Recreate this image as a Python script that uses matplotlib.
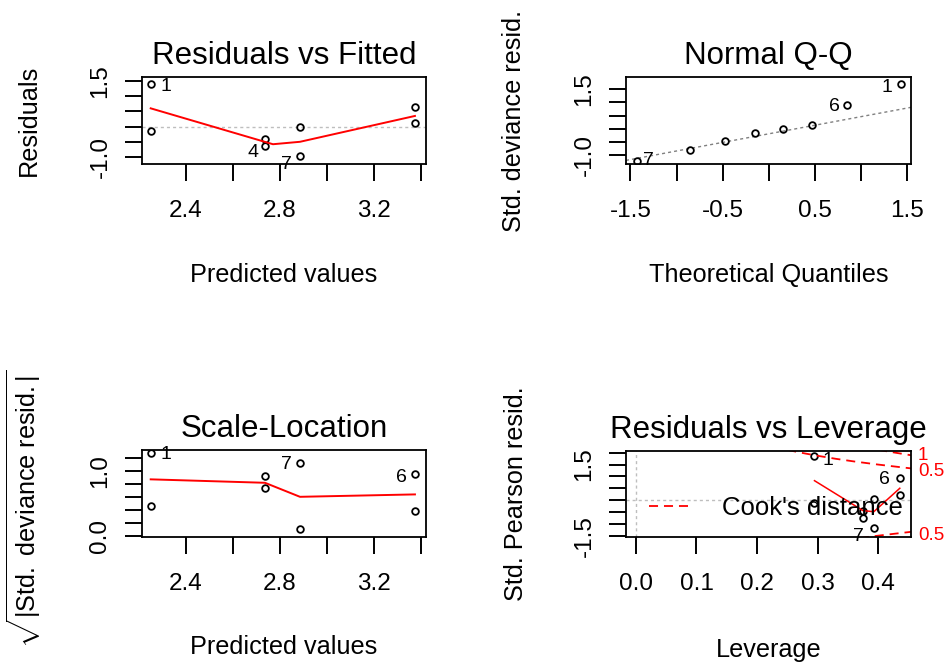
"""
GLM diagnostic plots (R plot.glm style): 2x2 panels
"""

import matplotlib
matplotlib.use("Agg")
import matplotlib.pyplot as plt
from matplotlib.lines import Line2D

plt.rcParams['font.family'] = ['Liberation Sans', 'DejaVu Sans']
plt.rcParams['mathtext.fontset'] = 'custom'
plt.rcParams['mathtext.rm'] = 'Liberation Sans'
plt.rcParams['mathtext.it'] = 'Liberation Sans:italic'
plt.rcParams['mathtext.bf'] = 'Liberation Sans:bold'

# --- Residuals vs Fitted ---
fitted = [2.25, 2.25, 2.736, 2.736, 2.885, 2.885, 3.374, 3.374]
resid = [1.40, -0.135, -0.41, -0.64, 0.0, -0.97, 0.635, 0.13]
fit_smooth_x = [2.25, 2.77, 2.885, 3.374]
fit_smooth_y = [0.60, -0.58, -0.50, 0.35]
fit_ids = ['1', '4', '7']
fit_id_idx = [0, 3, 5]

# --- Normal Q-Q ---
theo_q = [-1.434, -0.852, -0.473, -0.153, 0.153, 0.473, 0.852, 1.434]
std_dev_resid = [-1.22, -0.81, -0.456, -0.15, 0.0, 0.14, 0.89, 1.69]
qq_intercept = -0.194
qq_slope = 0.653
qq_ids = ['7', '6', '1']
qq_id_idx = [0, 6, 7]

# --- Scale-Location ---
sqrt_abs_resid = [1.267, 0.457, 0.917, 0.726, 1.122, 0.108, 0.943, 0.376]
sl_x = [2.25, 2.25, 2.736, 2.736, 2.885, 2.885, 3.374, 3.374]
sl_smooth_x = [2.25, 2.736, 2.885, 3.374]
sl_smooth_y = [0.866, 0.813, 0.597, 0.634]
sl_ids = ['1', '7', '6']
sl_id_idx = [0, 4, 6]

# --- Residuals vs Leverage ---
leverage = [0.295, 0.295, 0.375, 0.375, 0.393, 0.393, 0.436, 0.436]
pearson_resid = [1.86, -0.13, -0.45, -0.77, 0.03, -1.19, 0.92, 0.22]
lev_smooth_x = [0.295, 0.375, 0.393, 0.436]
lev_smooth_y = [0.82, -0.44, -0.49, 0.50]
lev_ids = ['1', '7', '6']
lev_id_idx = [0, 5, 6]
cook05_up_x = [0.25, 0.26, 0.28, 0.30, 0.33, 0.36, 0.40, 0.43, 0.46]
cook05_up_y = [2.12, 2.066, 1.964, 1.871, 1.743, 1.632, 1.50, 1.410, 1.322]
cook1_up_x = [0.40, 0.41, 0.43, 0.46]
cook1_up_y = [2.121, 2.078, 1.994, 1.870]
cook05_lo_x = [0.37, 0.38, 0.40, 0.43, 0.46]
cook05_lo_y = [-1.600, -1.564, -1.500, -1.410, -1.322]
cook_labels = ['1', '0.5', '0.5']
cook_label_y = [1.88, 1.20, -1.50]

TITLE_FS = 22.5
LAB_FS = 18.2
TICK_FS = 17.5
ID_FS = 14
RED_DASH = (0, (5, 3.3))
GRAY_DOT = (0, (2.2, 2.2))


def style(ax, xticks, xlabels, yticks, ylabels, xlim, ylim):
    ax.set_xlim(*xlim)
    ax.set_ylim(*ylim)
    ax.set_xticks(xticks, xlabels)
    ax.set_yticks(yticks, ylabels)
    for s in ax.spines.values():
        s.set_linewidth(1.3)
    ax.tick_params(axis='both', direction='out', length=12, width=1.4,
                   labelsize=TICK_FS)
    ax.tick_params(axis='x', pad=14)
    ax.tick_params(axis='y', pad=10, labelrotation=90)
    for lab in ax.get_yticklabels():
        lab.set_verticalalignment('center')


def labels(ax, title, xlabel, ylabel, ylab_x, xlab_y, ylab_y=0.5):
    ax.set_title(title, fontsize=TITLE_FS, pad=9.5)
    ax.set_xlabel(xlabel, fontsize=LAB_FS)
    ax.set_ylabel(ylabel, fontsize=LAB_FS)
    ax.xaxis.label.set_verticalalignment('center')
    ax.yaxis.label.set_verticalalignment('center')
    ax.xaxis.set_label_coords(0.5, xlab_y)
    ax.yaxis.set_label_coords(ylab_x, ylab_y)


def points(ax, x, y):
    ax.plot(x, y, 'o', ms=4.8, mfc='none', mec='black', mew=1.3,
            clip_on=True)


def ids(ax, x, y, idx, names, offsets):
    for i, name, (dx, dy) in zip(idx, names, offsets):
        ax.annotate(name, (x[i], y[i]), xytext=(dx, dy),
                    textcoords='offset points', fontsize=ID_FS,
                    ha='left' if dx > 0 else 'right', va='center',
                    annotation_clip=False)


fig = plt.figure(figsize=(9.48, 6.63), dpi=100)
W, H = 948.0, 663.0
ax1 = fig.add_axes([142 / W, 1 - 164 / H, 284 / W, 87 / H])
ax2 = fig.add_axes([626 / W, 1 - 164 / H, 285 / W, 87 / H])
ax3 = fig.add_axes([142 / W, 1 - 537 / H, 284 / W, 87 / H])
ax4 = fig.add_axes([626 / W, 1 - 537.3 / H, 285 / W, 86.6 / H])

# Residuals vs Fitted
ax1.axhline(0, color='#BEBEBE', lw=1.0, ls=GRAY_DOT)
points(ax1, fitted, resid)
ax1.plot(fit_smooth_x, fit_smooth_y, color='red', lw=1.4)
ids(ax1, fitted, resid, fit_id_idx, fit_ids, [(7, -2), (-5, -5), (-6, -6)])
style(ax1, [2.4, 2.6, 2.8, 3.0, 3.2, 3.4], ['2.4', '', '2.8', '', '3.2', ''],
      [-1.0, -0.5, 0.0, 0.5, 1.0, 1.5], ['-1.0', '', '', '', '', '1.5'],
      (2.213, 3.421), (-1.23, 1.63))
labels(ax1, 'Residuals vs Fitted', 'Predicted values', 'Residuals',
       -0.398, -1.276)

# Normal Q-Q
ax2.axline((0, qq_intercept), slope=qq_slope, color='#808080', lw=1.0,
           ls=GRAY_DOT)
points(ax2, theo_q, std_dev_resid)
ids(ax2, theo_q, std_dev_resid, qq_id_idx, qq_ids, [(5, 0), (-5, -1), (-6, -2)])
style(ax2, [-1.5, -1.0, -0.5, 0.0, 0.5, 1.0, 1.5],
      ['-1.5', '', '-0.5', '', '0.5', '', '1.5'],
      [-1.0, -0.5, 0.0, 0.5, 1.0, 1.5], ['-1.0', '', '', '', '', '1.5'],
      (-1.548, 1.543), (-1.342, 1.968))
labels(ax2, 'Normal Q-Q', 'Theoretical Quantiles', 'Std. deviance resid.',
       -0.393, -1.276)

# Scale-Location
points(ax3, sl_x, sqrt_abs_resid)
ax3.plot(sl_smooth_x, sl_smooth_y, color='red', lw=1.4)
ids(ax3, sl_x, sqrt_abs_resid, sl_id_idx, sl_ids, [(7, -1), (-6, -1), (-6, -2)])
style(ax3, [2.4, 2.6, 2.8, 3.0, 3.2, 3.4], ['2.4', '', '2.8', '', '3.2', ''],
      [0.0, 0.2, 0.4, 0.6, 0.8, 1.0, 1.2],
      ['0.0', '', '', '', '', '1.0', ''],
      (2.213, 3.421), (-0.022, 1.318))
labels(ax3, 'Scale-Location', 'Predicted values',
       r'$\sqrt{|\mathrm{Std.\ deviance\ resid.}|}$', -0.415, -1.264,
       ylab_y=0.32)

# Residuals vs Leverage
ax4.axhline(0, color='#BEBEBE', lw=1.0, ls=GRAY_DOT)
ax4.axvline(0, color='#BEBEBE', lw=1.0, ls=GRAY_DOT)
points(ax4, leverage, pearson_resid)
ax4.plot(lev_smooth_x, lev_smooth_y, color='red', lw=1.1)
for cx, cy in [(cook05_up_x, cook05_up_y), (cook1_up_x, cook1_up_y),
               (cook05_lo_x, cook05_lo_y)]:
    ax4.plot(cx, cy, color='red', lw=1.3, ls=RED_DASH)
for name, yv in zip(cook_labels, cook_label_y):
    ax4.annotate(name, (1.0, yv), xycoords=('axes fraction', 'data'),
                 xytext=(5, 0), textcoords='offset points', color='red',
                 fontsize=13.5, ha='left', va='center', annotation_clip=False)
ids(ax4, leverage, pearson_resid, lev_id_idx, lev_ids,
    [(6, -3), (-7, -6), (-7, -1)])
handle = Line2D([0], [0], color='red', lw=1.3, ls=RED_DASH)
ax4.legend([handle], ["Cook's distance"], loc='center left',
           bbox_to_anchor=(0.08, 0.338), frameon=False, fontsize=18.5,
           handlelength=1.56, handletextpad=1.28, borderpad=0,
           borderaxespad=0)
style(ax4, [0.0, 0.1, 0.2, 0.3, 0.4], ['0.0', '0.1', '0.2', '0.3', '0.4'],
      [-1.5, -1.0, -0.5, 0.0, 0.5, 1.0, 1.5, 2.0],
      ['-1.5', '', '', '', '', '', '1.5', ''],
      (-0.0165, 0.4545), (-1.568, 2.084))
labels(ax4, 'Residuals vs Leverage', 'Leverage', 'Std. Pearson resid.',
       -0.386, -1.305)

fig.savefig('out.png', dpi=100)
